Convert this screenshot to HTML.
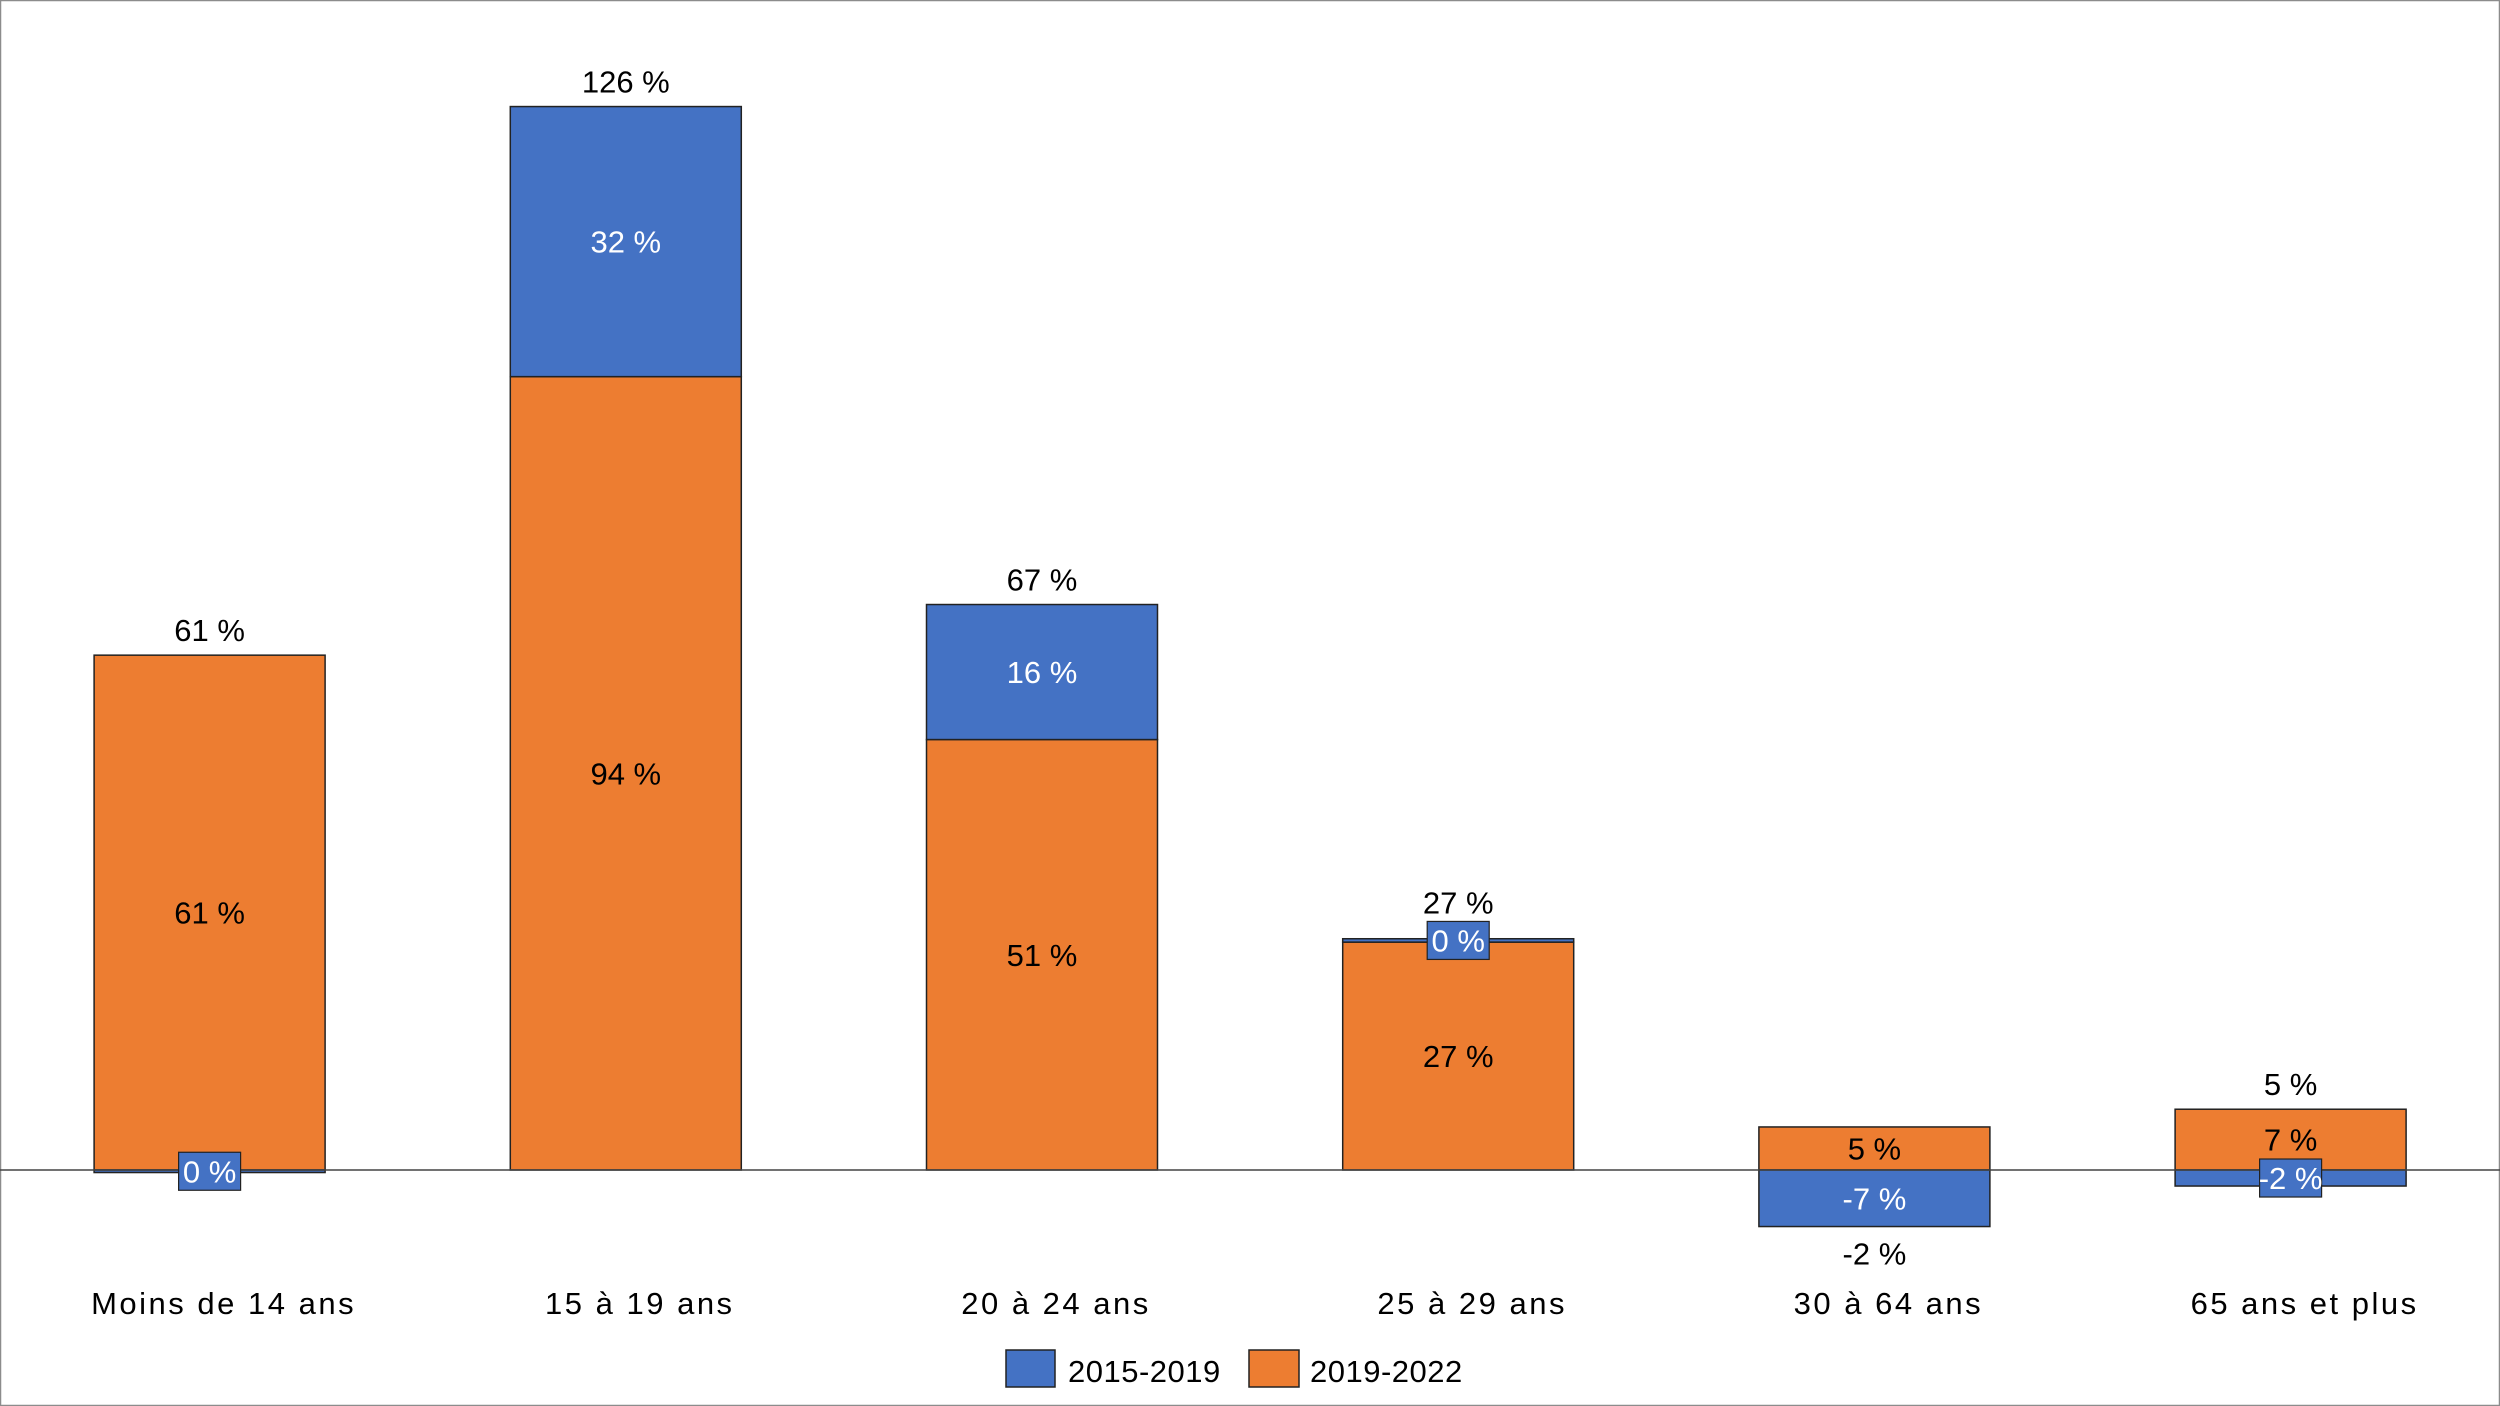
<!DOCTYPE html>
<html><head><meta charset="utf-8"><style>
html,body{margin:0;padding:0;background:#fff}
svg{display:block}
text{font-family:"Liberation Sans",sans-serif;font-size:31px}
</style></head><body>
<svg id="chart" width="2500" height="1406" viewBox="0 0 2500 1406">
<rect x="0.5" y="0.5" width="2499" height="1405" fill="#fff" stroke="#8c8c8c" stroke-width="1.5"/>
<g id="bars"></g>
<line x1="0" x2="2500" y1="1170" y2="1170" stroke="#444" stroke-width="1.5"/>
<g id="labels"></g>
<g>
<rect x="1006" y="1350" width="49" height="37" fill="#4472C4" stroke="#222" stroke-width="1.5"/>
<text x="1068" y="1382" letter-spacing="0.5">2015-2019</text>
<rect x="1249" y="1350" width="50" height="37" fill="#ED7D31" stroke="#222" stroke-width="1.5"/>
<text x="1310" y="1382" letter-spacing="0.5">2019-2022</text>
</g>
</svg>
<script>
const categories = ["Moins de 14 ans","15 à 19 ans","20 à 24 ans","25 à 29 ans","30 à 64 ans","65 ans et plus"];
const blue = [-0.3, 32, 16, 0.4, -6.7, -1.9];
const orange = [61, 94, 51, 27, 5.1, 7.2];

const NS="http://www.w3.org/2000/svg";
const zeroY=1170, pxPer=8.44;
const y = v => zeroY - v*pxPer;
const x0=209.6, step=416.2, bw=231;
const xc = i => x0 + i*step;
const gb=document.getElementById('bars'), gl=document.getElementById('labels');
function mk(tag, attrs, parent){const e=document.createElementNS(NS,tag);for(const k in attrs)e.setAttribute(k,attrs[k]);parent.appendChild(e);return e;}
function txt(s,x,yy,fill,parent,name){const t=mk('text',{x:x,y:yy,'text-anchor':'middle',fill:fill},parent);t.textContent=s;


return t;}
const fmt=v=>Math.round(v)+" %";
categories.forEach((c,i)=>{
  const cx=xc(i), left=cx-bw/2;
  let oBase=0, oTop=orange[i];
  let bBase = blue[i]>=0 ? oTop : 0, bTop = bBase + blue[i];
  const o=mk('rect',{x:left,y:y(Math.max(oBase,oTop)),width:bw,height:Math.abs(y(oTop)-y(oBase)),fill:"#ED7D31",stroke:"#222","stroke-width":1.5},gb);
  
  
  const b=mk('rect',{x:left,y:y(Math.max(bBase,bTop)),width:bw,height:Math.max(1,Math.abs(y(bTop)-y(bBase))),fill:"#4472C4",stroke:"#222","stroke-width":1.5},gb);
  
  
  const oMid=(y(oBase)+y(oTop))/2;
  txt(fmt(orange[i]),cx,oMid+11,"#000",gl,'label-2019-2022-'+i);
  const bMid=(y(bBase)+y(bTop))/2;
  const bh=Math.abs(y(bTop)-y(bBase));
  let boxTop=Infinity;
  if(bh<40){
    boxTop=bMid-19;
    const bx=mk('rect',{x:cx-31,y:bMid-19,width:62,height:38,fill:"#4472C4",stroke:"#222","stroke-width":1.2},gl);
    
    
  }
  txt(fmt(blue[i]),cx,bMid+11,"#fff",gl,'label-2015-2019-'+i);
  const total=orange[i]+blue[i];
  const top=Math.max(oTop,bTop,0), bot=Math.min(oBase,bBase,bTop);
  if(total>=0) txt(fmt(total),cx,Math.min(y(top)-14, boxTop-8),"#000",gl,'total-label-'+i);
  else txt(fmt(total),cx,y(bot)+38,"#000",gl,'total-label-'+i);
  const cl=txt(c,cx+14,1314,"#000",gl,'category-label-'+i);
  cl.setAttribute('letter-spacing','2.5');
});
</script>
</body></html>
